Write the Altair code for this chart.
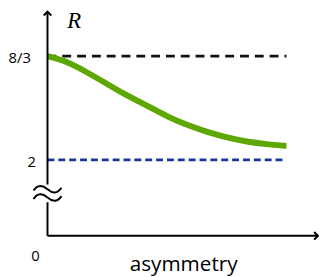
import altair as alt
import pandas as pd

# Curve: R versus asymmetry (schematic)
asym = [0.0, 0.070, 0.153, 0.236, 0.318, 0.421, 0.504, 0.587, 0.669, 0.752, 0.835, 0.917, 1.0]
R_vals = [2.667, 2.640, 2.574, 2.500, 2.425, 2.345, 2.275, 2.222, 2.178, 2.142, 2.116, 2.100, 2.089]

upper_level = 8 / 3
lower_level = 2.0
tick_values = [8 / 3, 2.0]
tick_labels = ["8/3", "2"]

XDOM = [-0.1653, 1.1364]
YDOM = [1.2571, 2.9651]
x_end = 1.0
x_axis_end = 1.132
y_axis_bottom = 1.511
y_axis_top = 2.952
break_lo = 1.727
break_hi = 1.841

xs = alt.Scale(domain=XDOM, nice=False, zero=False)
ys = alt.Scale(domain=YDOM, nice=False, zero=False)
X = lambda f: alt.X(f, type="quantitative", scale=xs, axis=None)
Y = lambda f: alt.Y(f, type="quantitative", scale=ys, axis=None)

curve = pd.DataFrame({"x": asym, "y": R_vals})
green = alt.Chart(curve).mark_line(color="#5ca800", strokeWidth=6, interpolate="basis", strokeCap="butt").encode(
    x=X("x"), y=Y("y"))

hl = pd.DataFrame({"x": [0.0], "x2": [x_end], "y": [upper_level]})
black_dash = alt.Chart(hl).mark_rule(color="#111111", strokeWidth=2.6, strokeDash=[9, 6]).encode(
    x=X("x"), x2="x2", y=Y("y"))

bl = pd.DataFrame({"x": [0.0], "x2": [x_end], "y": [lower_level]})
blue_dash = alt.Chart(bl).mark_rule(color="#1a389c", strokeWidth=2.8, strokeDash=[7, 4]).encode(
    x=X("x"), x2="x2", y=Y("y"))

# axes
xaxis = alt.Chart(pd.DataFrame({"x": [0.0], "x2": [x_axis_end], "y": [y_axis_bottom]})).mark_rule(
    color="black", strokeWidth=2).encode(x=X("x"), x2="x2", y=Y("y"))
yaxis = alt.Chart(pd.DataFrame({"x": [0.0, 0.0], "y": [y_axis_bottom, break_hi], "y2": [break_lo, y_axis_top]})).mark_rule(
    color="black", strokeWidth=2).encode(x=X("x"), y=Y("y"), y2="y2")

arrow_up = alt.Chart(pd.DataFrame({"x": [0.0], "y": [y_axis_top]})).mark_point(
    shape="M -1 1 L 0 0 L 1 1", filled=False, stroke="black", strokeWidth=2, size=60, opacity=1).encode(
    x=X("x"), y=Y("y"))
arrow_right = alt.Chart(pd.DataFrame({"x": [x_axis_end], "y": [y_axis_bottom]})).mark_point(
    shape="M -1 -1 L 0 0 L -1 1", filled=False, stroke="black", strokeWidth=2, size=60, opacity=1).encode(
    x=X("x"), y=Y("y"))

# axis-break symbol (two tildes)
tilde_path = ("M -1 -0.2 C -0.7 -0.65 -0.35 -0.6 0 -0.3 C 0.35 0 0.7 0.05 1 -0.4 "
              "M -1 0.4 C -0.7 -0.05 -0.35 0 0 0.3 C 0.35 0.6 0.7 0.65 1 0.2")
brk = alt.Chart(pd.DataFrame({"x": [0.0], "y": [(break_lo + break_hi) / 2]})).mark_point(
    shape=tilde_path, filled=False, stroke="black", strokeWidth=2, size=800, opacity=1).encode(
    x=X("x"), y=Y("y"))

labels_l = alt.Chart(pd.DataFrame({"x": [-0.163], "y": [tick_values[0]], "t": [tick_labels[0]]})).mark_text(
    font="Open Sans", fontSize=15, color="black", baseline="middle", align="left", dy=2).encode(
    x=X("x"), y=Y("y"), text="t:N")
labels_c = alt.Chart(pd.DataFrame({"x": [-0.066], "y": [tick_values[1]], "t": [tick_labels[1]]})).mark_text(
    font="Open Sans", fontSize=15, color="black", baseline="middle", align="center", dy=2).encode(
    x=X("x"), y=Y("y"), text="t:N")

zero = alt.Chart(pd.DataFrame({"x": [-0.05], "y": [1.38], "t": ["0"]})).mark_text(
    font="Open Sans", fontSize=15, color="black", baseline="middle", align="center").encode(
    x=X("x"), y=Y("y"), text="t:N")

rlab = alt.Chart(pd.DataFrame({"x": [0.112], "y": [2.889], "t": ["R"]})).mark_text(
    font="Liberation Serif", fontStyle="italic", fontSize=23, color="black", baseline="middle", align="center").encode(
    x=X("x"), y=Y("y"), text="t:N")

xlab = alt.Chart(pd.DataFrame({"x": [0.57], "y": [1.325], "t": ["asymmetry"]})).mark_text(
    font="Open Sans", fontSize=21, color="black", baseline="middle", align="center").encode(
    x=X("x"), y=Y("y"), text="t:N")

chart = alt.layer(black_dash, blue_dash, green, xaxis, yaxis, arrow_up, arrow_right, brk, labels_l, labels_c, zero, rlab, xlab).properties(
    width=315, height=269, padding=0, autosize=alt.AutoSizeParams(type="none")
).configure_view(stroke=None)

chart.save("out.html", embed_options={"renderer": "svg", "actions": False})
